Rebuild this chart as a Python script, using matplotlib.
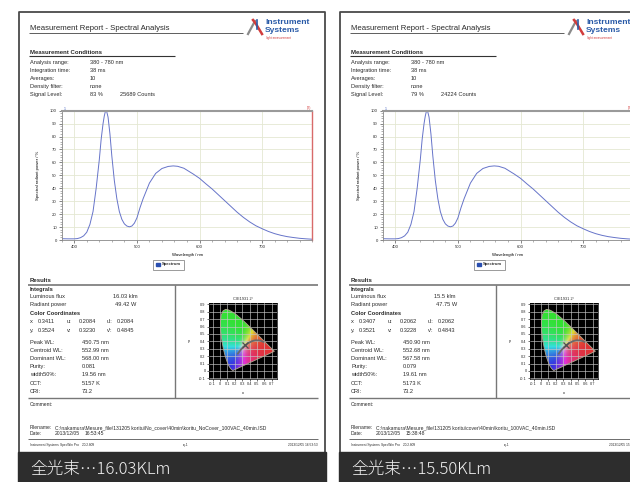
import numpy as np
import matplotlib.pyplot as plt
from matplotlib.patches import Rectangle, Polygon

plt.rcParams['font.family'] = ['Liberation Sans', 'DejaVu Sans']

W, H = 630, 482

# ---- spectrum (same shape on both reports) ----
wl = [380, 390, 400, 405, 410, 415, 420, 425, 430, 435, 440, 443, 446, 448, 450,
      452, 454, 457, 460, 464, 468, 472, 476, 480, 484, 488, 492, 496, 500, 505,
      510, 520, 530, 540, 550, 558, 565, 575, 590, 600, 610, 620, 630, 640, 650,
      660, 670, 680, 690, 700, 710, 720, 730, 740, 750, 760, 770, 780]
power = [1.0, 0.9, 0.9, 1.1, 1.8, 3.2, 6.0, 12.0, 22.0, 40.0, 62.0, 78.0, 90.0, 96.0, 100.0,
         99.0, 95.0, 82.0, 65.0, 46.0, 32.0, 22.0, 16.0, 12.5, 10.8, 10.2, 10.8, 13.0, 17.0, 25.0,
         32.0, 44.0, 51.5, 55.3, 56.9, 57.3, 57.0, 55.5, 51.0, 47.7, 43.5, 39.5, 35.0, 30.5, 26.0,
         21.5, 17.5, 14.0, 11.0, 8.7, 6.6, 4.9, 3.6, 2.6, 1.9, 1.3, 0.9, 0.6]

# ---- report texts, one entry per page ----
signal = ['83 %', '79 %']
counts = ['25689 Counts', '24224 Counts']
flux = ['16.03 klm', '15.5 klm']
radiant = ['49.42 W', '47.75 W']
cx = ['0.3411', '0.3407']
cy = ['0.3524', '0.3521']
cu = ['0.2084', '0.2062']
cv = ['0.3230', '0.3228']
cu2 = ['0.2084', '0.2062']
cv2 = ['0.4845', '0.4843']
peak = ['450.75 nm', '450.90 nm']
centroid = ['552.99 nm', '552.68 nm']
dominant = ['568.00 nm', '567.58 nm']
purity = ['0.081', '0.079']
width50 = ['19.56 nm', '19.61 nm']
cct = ['5157 K', '5173 K']
cri = ['73.2', '73.2']
files = [r'C:\nakamura\Mesure_file\131205 koritu\No_cover\40min\koritu_NoCover_100VAC_40min.ISD',
         r'C:\nakamura\Mesure_file\131205 koritu\cover\40min\koritu_100VAC_40min.ISD']
times = ['16:53:45', '15:38:48']
stamps = ['2013/12/05 16:53:53', '2013/12/05 15:38:55']
captions = ['全光束…16.03KLm', '全光束…15.50KLm']
meas_x = [0.3411, 0.3407]
meas_y = [0.3524, 0.3521]

# CIE 1931 spectral locus (x, y)
loc_x = [0.1741, 0.1714, 0.1644, 0.1566, 0.1440, 0.1241, 0.1096, 0.0913, 0.0687, 0.0454,
         0.0235, 0.0082, 0.0039, 0.0139, 0.0389, 0.0743, 0.1142, 0.1547, 0.2296, 0.3016,
         0.3731, 0.4441, 0.5125, 0.5752, 0.6270, 0.6915, 0.7190, 0.7347]
loc_y = [0.0050, 0.0051, 0.0109, 0.0177, 0.0297, 0.0578, 0.0868, 0.1327, 0.2007, 0.2950,
         0.4127, 0.5384, 0.6548, 0.7502, 0.8120, 0.8338, 0.8262, 0.8059, 0.7543, 0.6923,
         0.6245, 0.5547, 0.4866, 0.4242, 0.3725, 0.3083, 0.2809, 0.2653]
# Planckian locus (x, y)
pl_x = [0.240, 0.253, 0.265, 0.281, 0.313, 0.345, 0.380, 0.437, 0.476, 0.527, 0.559, 0.586]
pl_y = [0.234, 0.252, 0.267, 0.288, 0.324, 0.352, 0.377, 0.404, 0.414, 0.413, 0.405, 0.393]

fig = plt.figure(figsize=(W / 100, H / 100), dpi=100)
bg = fig.add_axes([0, 0, 1, 1])
bg.set_xlim(0, W)
bg.set_ylim(H, 0)
bg.axis('off')

S = 4.1  # body text size
DARK = '#2a2a2a'

# chromaticity colour image for the CIE background
gx = np.linspace(-0.15, 0.77, 260)
gy = np.linspace(-0.11, 0.92, 260)
XX, YY = np.meshgrid(gx, gy)
Ys = np.where(YY > 0.001, YY, 0.001)
X = XX / Ys
Z = (1 - XX - YY) / Ys
M = np.array([[3.2406, -1.5372, -0.4986], [-0.9689, 1.8758, 0.0415], [0.0557, -0.2040, 1.0570]])
rgb = np.einsum('ij,jxy->xyi', M, np.array([X, np.ones_like(X), Z]))
rgb = np.clip(rgb, 0, None)
rgb = rgb / rgb.max(axis=2, keepdims=True).clip(1e-6)
rgb = rgb ** 1.2
rgb = 0.68 * rgb + 0.2


def line(x0, x1, y0, y1, **kw):
    bg.plot([x0, x1], [y0, y1], solid_capstyle='butt', **kw)


def draw_page(i, ox):
    def T(x, y, s, size=S, color=DARK, **kw):
        bg.text(x + ox, y, s, fontsize=size, va='center', color=color, **kw)

    # page frame
    bg.plot([19 + ox, 19 + ox, 325 + ox, 325 + ox], [455, 12, 12, 455], color='#4a4a4a', lw=1.3)

    # header
    T(30, 28, 'Measurement Report - Spectral Analysis', size=5.6)
    line(29 + ox, 243 + ox, 33, 33, color='#444444', lw=0.6)
    bg.plot([248 + ox, 255 + ox], [34, 21], color='#8a8a8a', lw=1.6)
    bg.plot([253 + ox, 256 + ox, 262 + ox], [20, 24, 34], color='#d23c3c', lw=1.8)
    bg.plot([257 + ox, 257 + ox], [20, 29], color='#2a5ba8', lw=1.2)
    T(265, 22.6, 'Instrument', size=6.1, fontweight='bold', color='#2a5ba8')
    T(265, 31.0, 'Systems', size=6.1, fontweight='bold', color='#2a5ba8')
    T(266, 37.6, 'light measurement', size=2.2, color='#d23c3c')

    # measurement conditions
    T(30, 52, 'Measurement Conditions', size=4.3, fontweight='bold')
    line(29 + ox, 175 + ox, 56, 56, color='#333333', lw=0.8)
    rows = [('Analysis range:', '380 - 780 nm'), ('Integration time:', '38 ms'),
            ('Averages:', '10'), ('Density filter:', 'none'), ('Signal Level:', signal[i])]
    for (lab, val), y in zip(rows, [62.3, 70.2, 78.2, 86.2, 94.2]):
        T(30, y, lab)
        T(90, y, val)
    T(120, 94.2, counts[i])

    # spectrum chart
    ax = fig.add_axes([(61.7 + ox) / W, 1 - 240 / H, 250.6 / W, 129.3 / H])
    ax.plot(wl, power, color='#6674c9', lw=0.7)
    ax.set_xlim(380, 780)
    ax.set_ylim(0, 100)
    ax.set_xticks([400, 500, 600, 700])
    ax.set_xticks(range(380, 781, 20), minor=True)
    ax.set_yticks(range(0, 101, 10))
    ax.set_yticks(range(0, 101, 2), minor=True)
    ax.grid(True, which='major', color='#e4e8d2', lw=0.6)
    ax.tick_params(which='major', labelsize=3.1, length=2, width=0.5, pad=1.5, colors='#555555',
                   labelcolor=DARK)
    ax.tick_params(which='minor', length=1.2, width=0.4, colors='#777777')
    for sp in ['left', 'bottom']:
        ax.spines[sp].set_color('#888888')
        ax.spines[sp].set_linewidth(0.6)
    ax.spines['top'].set_color('#9a9a9a')
    ax.spines['top'].set_linewidth(1.5)
    ax.spines['right'].set_color('#d86a6a')
    ax.spines['right'].set_linewidth(1.0)
    ax.set_xlabel('Wavelength / nm', fontsize=3.1, labelpad=3)
    ax.set_ylabel('Spectral radiant power / %', fontsize=3.1, labelpad=7)
    T(64, 108.5, '1', size=2.5, color='#4060c0')
    T(307, 108.5, '(2)', size=2.5, color='#d23c3c')

    # legend box
    bg.add_patch(Rectangle((152.7 + ox, 259.5), 31.5, 10.3, fill=False, ec='#8a8a8a', lw=0.6))
    bg.add_patch(Rectangle((156 + ox, 262.5), 3.6, 3.8, color='#2a4fb0'))
    T(162, 264.5, 'Spectrum', size=3.0, fontweight='bold')

    # results block
    T(30, 280, 'Results', size=4.3, fontweight='bold')
    line(28 + ox, 318 + ox, 284.5, 284.5, color='#777777', lw=1.2)
    line(174.5 + ox, 174.5 + ox, 284.5, 398, color='#777777', lw=1.0)
    line(28 + ox, 318 + ox, 398, 398, color='#777777', lw=1.0)
    T(30, 289.3, 'Integrals', size=4.1, fontweight='bold')
    T(30, 296.8, 'Luminous flux')
    T(113, 296.8, flux[i])
    T(30, 304.7, 'Radiant power')
    T(115, 304.7, radiant[i])
    T(30, 313.3, 'Color Coordinates', size=4.1, fontweight='bold')
    for y, a, b, c, d, e, f in [(321.7, 'x:', cx[i], 'u:', cu[i], "u':", cu2[i]),
                                (330.3, 'y:', cy[i], 'v:', cv[i], "v':", cv2[i])]:
        T(30, y, a)
        T(38, y, b)
        T(67, y, c)
        T(79, y, d)
        T(107, y, e)
        T(117, y, f)
    labels = ['Peak WL:', 'Centroid WL:', 'Dominant WL:', 'Purity:', 'width50%:', 'CCT:', 'CRI:']
    vals = [peak[i], centroid[i], dominant[i], purity[i], width50[i], cct[i], cri[i]]
    for lab, val, y in zip(labels, vals, [342.3, 350.5, 358.7, 366.8, 375, 383.1, 391.3]):
        T(30, y, lab)
        T(82, y, val)

    # CIE chart
    cax = fig.add_axes([(209 + ox) / W, 1 - 379 / H, 68 / W, 76 / H])
    cax.set_facecolor('black')
    im = cax.imshow(rgb, extent=[gx[0], gx[-1], gy[0], gy[-1]], origin='lower',
                    aspect='auto', interpolation='bilinear', zorder=1)
    poly = Polygon(np.column_stack([loc_x, loc_y]), closed=True, fc='none',
                   ec='#b0a890', lw=0.6, zorder=3)
    cax.add_patch(poly)
    im.set_clip_path(poly)
    cax.set_xlim(-0.15, 0.77)
    cax.set_ylim(-0.11, 0.92)
    cax.set_xticks(np.round(np.arange(-0.1, 0.71, 0.1), 1))
    cax.set_xticklabels(['-0.1', '0', '0.1', '0.2', '0.3', '0.4', '0.5', '0.6', '0.7'])
    cax.set_yticks(np.round(np.arange(-0.1, 0.91, 0.1), 1))
    cax.set_yticklabels(['-0.1', '0', '0.1', '0.2', '0.3', '0.4', '0.5', '0.6', '0.7', '0.8', '0.9'])
    cax.grid(True, color='#c8c8c8', lw=0.45, zorder=2)
    cax.set_axisbelow(False)
    cax.tick_params(labelsize=2.8, length=1.5, width=0.4, pad=1, labelcolor=DARK)
    cax.plot(pl_x, pl_y, color='#6a6a6a', lw=1.3, zorder=4)
    cax.plot(meas_x[i], meas_y[i], marker='x', ms=5, mew=0.9, color='#505050', zorder=5)
    cax.set_title('CIE1931 2°', fontsize=2.8, pad=2.5, color=DARK)
    cax.set_xlabel('x', fontsize=2.8, labelpad=3)
    cax.set_ylabel('y', fontsize=2.8, labelpad=7, rotation=0, va='center')
    for sp in cax.spines.values():
        sp.set_linewidth(0.5)

    # comment / file info
    T(30, 405, 'Comment:', size=3.6)
    T(30, 427.7, 'Filename:', size=3.6)
    T(55, 427.7, files[i], size=3.6)
    T(30, 433.3, 'Date:', size=3.6)
    T(55, 433.3, '2013/12/05', size=3.6)
    T(85, 433.3, times[i], size=3.6)
    line(28 + ox, 318 + ox, 439.3, 439.3, color='#555555', lw=0.6)
    T(30, 445, 'Instrument Systems', size=2.3)
    T(60, 445, 'SpecWin Pro', size=2.3)
    T(82, 445, '2.0.2.809', size=2.3)
    T(183, 445, ':q-1', size=2.3)
    bg.text(318 + ox, 445, stamps[i], fontsize=2.3, va='center', ha='right', color=DARK)

    # dark caption band
    bg.add_patch(Rectangle((18 + ox, 452), 307.5, 31, color='#2d2d2d', zorder=5))
    bg.text(30 + ox, 469.5, captions[i], fontsize=12, va='center', color='#f2f2f2', zorder=6,
            family=['Noto Sans CJK JP', 'DejaVu Sans'], fontweight='light')


draw_page(0, 0)
draw_page(1, 321)

fig.savefig('out.png', dpi=100, facecolor='white')
